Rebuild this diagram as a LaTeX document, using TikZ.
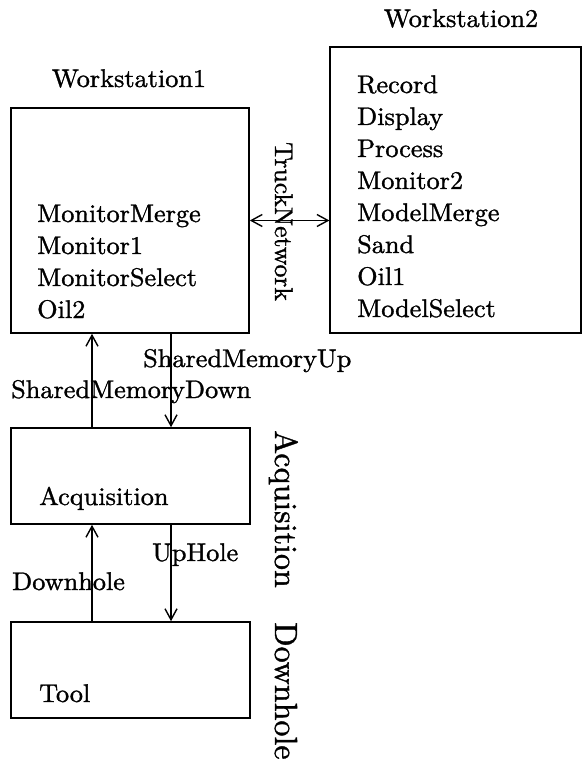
\documentclass[tikz,border=0pt]{standalone}
\usepackage{fontspec}
\setmainfont{lmroman10-regular.otf}[FakeStretch=1.03,FakeBold=1.2]
\newfontfamily\rotfont{lmroman10-regular.otf}[FakeBold=1.2]
\usetikzlibrary{arrows.meta}
\tikzset{
  boxA/.style={draw, line width=1.6pt, rectangle, inner sep=0pt},
  boxB/.style={draw, line width=1.2pt, rectangle, inner sep=0pt},
  txt/.style={inner sep=0pt, anchor=base west, font=\fontsize{25.5}{32}\selectfont},
  ttl/.style={inner sep=0pt, anchor=base, font=\fontsize{25.5}{32}\selectfont},
  vlbl/.style={inner sep=0pt, anchor=base west, rotate=-90},
  tipb/.tip={Straight Barb[length=11pt,width=12pt,line width=1.4pt]},
  conn/.style={line width=1.4pt, -tipb},
  dconn/.style={line width=1.4pt, tipb-tipb}
}
\begin{document}
\begin{tikzpicture}[x=1pt,y=-1pt]
\useasboundingbox (0,0) rectangle (583,762);
% boxes
\node[boxA, minimum width=238pt, minimum height=225pt] (ws1) at (130,220.5) {};
\node[boxB, minimum width=251pt, minimum height=286pt] (ws2) at (455.5,190) {};
\node[boxA, minimum width=239pt, minimum height=96pt] (acq) at (130.5,476) {};
\node[boxA, minimum width=239pt, minimum height=96pt] (tool) at (130.5,670) {};
% titles
\node[ttl] (t1) at (129,87) {Workstation1};
\node[ttl] (t2) at (461,27) {Workstation2};
% ws1 contents
\node[txt] (a1) at (37,222) {MonitorMerge};
\node[txt] (a2) at (37,254) {Monitor1};
\node[txt] (a3) at (37,286) {MonitorSelect};
\node[txt] (a4) at (37,318) {Oil2};
% ws2 contents
\node[txt] (b1) at (357,93) {Record};
\node[txt] (b2) at (357,125) {Display};
\node[txt] (b3) at (357,157) {Process};
\node[txt] (b4) at (357,189) {Monitor2};
\node[txt] (b5) at (357,221) {ModelMerge};
\node[txt] (b6) at (357,253) {Sand};
\node[txt] (b7) at (357,285) {Oil1};
\node[txt] (b8) at (357,317) {ModelSelect};
% other box contents
\node[txt] (c1) at (39,505) {Acquisition};
\node[txt] (d1) at (39,702) {Tool};
% connector labels
\node[txt] (l1) at (143,367) {SharedMemoryUp};
\node[txt] (l2) at (11,398) {SharedMemoryDown};
\node[txt] (l3) at (152,561) {UpHole};
\node[txt] (l4) at (12,590) {Downhole};
% rotated labels
\node[vlbl, font=\rotfont\fontsize{25.6}{26}\selectfont] (v1) at (275,142) {TruckNetwork};
\node[vlbl, font=\rotfont\fontsize{32}{32}\selectfont] (v2) at (275,430) {Acquisition};
\node[vlbl, font=\rotfont\fontsize{32}{32}\selectfont] (v3) at (275,622) {Downhole};
% connectors
\coordinate (xl) at (92,0);
\coordinate (xr) at (171,0);
\draw[dconn] (ws1.east) -- (ws1.east -| ws2.west);
\draw[conn] (acq.north -| xl) -- (ws1.south -| xl);
\draw[conn] (ws1.south -| xr) -- (acq.north -| xr);
\draw[conn] (tool.north -| xl) -- (acq.south -| xl);
\draw[conn] (acq.south -| xr) -- (tool.north -| xr);
\end{tikzpicture}
\end{document}
